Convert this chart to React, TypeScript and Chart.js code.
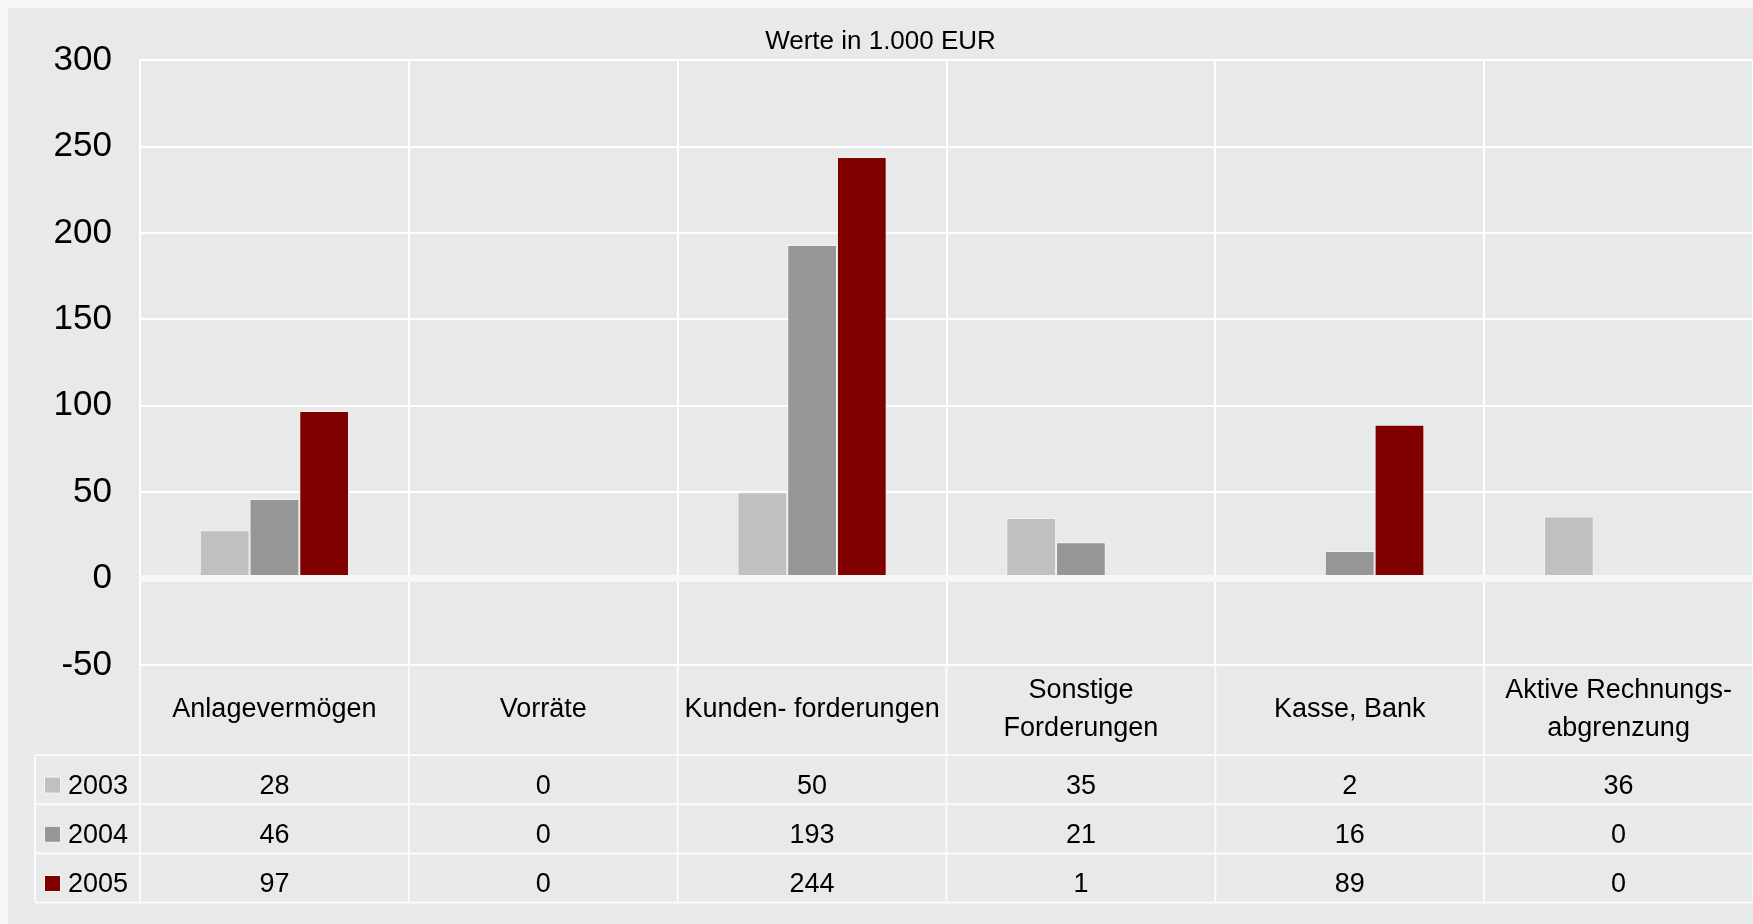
import React, { useEffect, useRef } from "react";
import { Chart, registerables } from "chart.js";

Chart.register(...registerables);

// ---- data ----
const categories: (string | string[])[] = [
  "Anlagevermögen",
  "Vorräte",
  "Kunden- forderungen",
  ["Sonstige", "Forderungen"],
  "Kasse, Bank",
  ["Aktive Rechnungs-", "abgrenzung"],
];
const seriesLabels = ["2003", "2004", "2005"];
const values2003 = [28, 0, 50, 35, 2, 36];
const values2004 = [46, 0, 193, 21, 16, 0];
const values2005 = [97, 0, 244, 1, 89, 0];
const seriesColors = ["#c0c0c0", "#969696", "#800000"];
const yTickValues = [-50, 0, 50, 100, 150, 200, 250, 300];
const chartTitle = "Werte in 1.000 EUR";

const FONT = '"Liberation Sans", Arial, Helvetica, sans-serif';
const BG = "#e8eae9";
const LINE = "#fafafa";
const CANVAS_W = 1790;
const PLOT_RIGHT = 1745;

const tablePlugin = {
  id: "dataTable",
  beforeDraw(chart: any) {
    const { ctx, width, height } = chart;
    ctx.save();
    ctx.fillStyle = BG;
    ctx.fillRect(0, 0, width, height);
    ctx.restore();
  },
  afterDatasetsDraw(chart: any) {
    const { ctx, chartArea: ca, scales } = chart;
    const y0 = scales.y.getPixelForValue(0);
    ctx.save();
    ctx.strokeStyle = "#f7f7f7";
    ctx.lineWidth = 7;
    ctx.beginPath();
    ctx.moveTo(ca.left, y0);
    ctx.lineTo(ca.right, y0);
    ctx.stroke();
    ctx.restore();
  },
  afterDraw(chart: any) {
    const { ctx, chartArea: ca, scales } = chart;
    const xs = scales.x;
    const n = categories.length;
    const catW = (ca.right - ca.left) / n;
    const labelTop = ca.bottom;
    const labelBottom = ca.bottom + 90;
    const rowH = 49.2;
    const rows = [values2003, values2004, values2005];
    const tableBottom = labelBottom + rowH * rows.length;
    const tableLeft = 27;

    ctx.save();
    ctx.strokeStyle = LINE;
    ctx.lineWidth = 2;
    for (let i = 0; i <= n; i++) {
      const x = ca.left + i * catW;
      ctx.beginPath();
      ctx.moveTo(x, labelTop);
      ctx.lineTo(x, tableBottom);
      ctx.stroke();
    }
    ctx.beginPath();
    ctx.moveTo(tableLeft, labelBottom);
    ctx.lineTo(tableLeft, tableBottom);
    ctx.stroke();
    for (let r = 0; r <= rows.length; r++) {
      const y = labelBottom + r * rowH;
      ctx.beginPath();
      ctx.moveTo(tableLeft, y);
      ctx.lineTo(ca.right, y);
      ctx.stroke();
    }

    // category labels
    ctx.fillStyle = "#000";
    ctx.font = `27px ${FONT}`;
    ctx.textAlign = "center";
    ctx.textBaseline = "middle";
    const labelCenter = (labelTop + labelBottom) / 2;
    categories.forEach((c, i) => {
      const lines = Array.isArray(c) ? c : [c];
      const cx = xs.getPixelForValue(i);
      const lh = 38;
      const startY = labelCenter - ((lines.length - 1) * lh) / 2;
      lines.forEach((t, k) => ctx.fillText(t, cx, startY + k * lh));
    });

    // table rows
    rows.forEach((vals, r) => {
      const rc = labelBottom + r * rowH + rowH / 2;
      const cy = rc + 7;
      ctx.fillStyle = "#f4f4f4";
      ctx.fillRect(36, rc - 3, 17, 17);
      ctx.fillStyle = seriesColors[r];
      ctx.fillRect(37, rc - 2, 15, 15);
      ctx.fillStyle = "#000";
      ctx.textAlign = "left";
      ctx.fillText(seriesLabels[r], 60, cy);
      ctx.textAlign = "center";
      vals.forEach((v, i) => {
        ctx.fillText(String(v), xs.getPixelForValue(i), cy);
      });
    });
    ctx.restore();
  },
};

export default function App() {
  const ref = useRef<HTMLCanvasElement | null>(null);
  useEffect(() => {
    document.documentElement.style.background = "#f7f7f7";
    document.documentElement.style.overflow = "hidden";
    const canvas = ref.current;
    if (!canvas) return;
    const chart = new Chart(canvas, {
      type: "bar",
      data: {
        labels: categories.map((c) => (Array.isArray(c) ? c.join(" ") : c)),
        datasets: [values2003, values2004, values2005].map((vals, i) => ({
          label: seriesLabels[i],
          data: vals,
          backgroundColor: seriesColors[i],
          borderColor: "#f2f2f2",
          borderWidth: 1,
          categoryPercentage: 0.555,
          barPercentage: 1,
        })),
      },
      options: {
        animation: false,
        responsive: false,
        devicePixelRatio: 1,
        layout: { padding: { left: 0, right: CANVAS_W - PLOT_RIGHT, top: 0, bottom: 259 } },
        plugins: {
          legend: { display: false },
          tooltip: { enabled: false },
          title: {
            display: true,
            text: chartTitle,
            color: "#000",
            font: { family: FONT, size: 26, weight: "normal" },
            padding: { top: 18, bottom: 3 },
          },
        },
        scales: {
          x: {
            grid: { color: "#ffffff", lineWidth: 2, drawTicks: false, offset: true },
            border: { display: false },
            ticks: { display: false },
          },
          y: {
            min: -50,
            max: 300,
            afterBuildTicks: (scale: any) => {
              scale.ticks = yTickValues.map((v) => ({ value: v }));
            },
            afterFit: (scale: any) => {
              scale.width = 132;
            },
            grid: {
              color: "#ffffff",
              lineWidth: (c: any) => (c.tick && c.tick.value === 0 ? 0 : 2),
              drawTicks: false,
            },
            border: { display: false },
            ticks: {
              color: "#000",
              padding: 28,
              font: { family: FONT, size: 35 },
            },
          },
        },
      },
      plugins: [tablePlugin],
    });
    return () => chart.destroy();
  }, []);
  return (
    <div style={{ position: "absolute", left: 8, top: 8, width: CANVAS_W, height: 916 }}>
      <canvas ref={ref} width={CANVAS_W} height={916} style={{ display: "block" }} />
    </div>
  );
}
